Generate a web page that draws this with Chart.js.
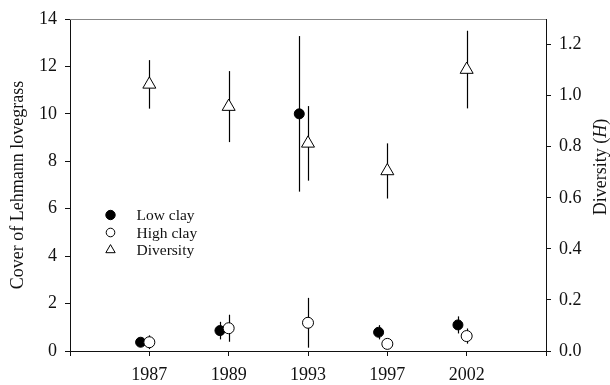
<!DOCTYPE html>
<html>
<head>
<meta charset="utf-8">
<title>Cover of Lehmann lovegrass and diversity</title>
<script src="https://cdn.jsdelivr.net/npm/chart.js@4.4.1/dist/chart.umd.min.js"></script>
<style>
  html, body { margin: 0; padding: 0; background: #fff; }
  #wrap { position: relative; width: 610px; height: 385px; }
</style>
</head>
<body>
<div id="wrap"><canvas id="chart" width="610" height="385"></canvas></div>
<script>
// Survey years (x categories)
const years = ['1987', '1989', '1993', '1997', '2002'];

// Cover of Lehmann lovegrass (left axis), mean and error
const lowClay = [0.37, 0.86, 10.0, 0.79, 1.10];
const lowClayErr = [0.15, 0.37, 3.28, 0.30, 0.36];
const highClay = [0.37, 0.96, 1.19, 0.30, 0.63];
const highClayErr = [0.29, 0.57, 1.05, 0.15, 0.32];

// Diversity H (right axis), mean and error
const diversity = [1.044, 0.957, 0.813, 0.705, 1.102];
const diversityErr = [0.095, 0.139, 0.146, 0.108, 0.152];

// Tick labels
const coverTicks = [0, 2, 4, 6, 8, 10, 12, 14];
const diversityTicks = [0, 0.2, 0.4, 0.6, 0.8, 1.0, 1.2];

const serif = '"Liberation Serif", "Times New Roman", serif';
const ink = '#111';
Chart.defaults.font.family = serif;
Chart.defaults.color = ink;

// low clay symbols sit a little left of the year
function toPoints(values, shift) {
    return values.map((v, i) => ({ x: i + 1 + shift, y: v }));
}

const errors = [lowClayErr, highClayErr, diversityErr];

// vertical error bars, drawn under the symbols
const errorBars = {
    id: 'errorBars',
    beforeDatasetsDraw(chart) {
        const ctx = chart.ctx;
        ctx.save();
        ctx.strokeStyle = '#000';
        ctx.lineWidth = 1.2;
        chart.data.datasets.forEach((ds, i) => {
            const meta = chart.getDatasetMeta(i);
            const scale = chart.scales[ds.yAxisID];
            meta.data.forEach((pt, j) => {
                const v = ds.data[j].y;
                const e = errors[i][j];
                const x = Math.round(pt.x) + 0.5;
                ctx.beginPath();
                ctx.moveTo(x, scale.getPixelForValue(v + e));
                ctx.lineTo(x, scale.getPixelForValue(v - e));
                ctx.stroke();
            });
        });
        ctx.restore();
    }
};

// top frame line, legend box and the right-hand title
const decorations = {
    id: 'decorations',
    afterDraw(chart) {
        const ctx = chart.ctx;
        const area = chart.chartArea;

        ctx.save();
        ctx.strokeStyle = '#888';
        ctx.lineWidth = 1;
        ctx.beginPath();
        ctx.moveTo(area.left, Math.round(area.top) + 0.5);
        ctx.lineTo(area.right, Math.round(area.top) + 0.5);
        ctx.stroke();
        ctx.restore();

        // legend
        const rows = [215, 232.5, 250];
        const symbolSize = [4.7, 4.3, 5.4];
        ctx.save();
        chart.data.datasets.forEach((ds, i) => {
            ctx.fillStyle = ds.backgroundColor;
            ctx.strokeStyle = ds.borderColor;
            ctx.lineWidth = 1;
            Chart.helpers.drawPoint(ctx, {
                pointStyle: ds.pointStyle,
                radius: symbolSize[i],
                rotation: 0,
                borderWidth: 1
            }, 110.5, rows[i]);
            ctx.fillStyle = ink;
            ctx.font = '15.5px ' + serif;
            ctx.textBaseline = 'middle';
            ctx.textAlign = 'left';
            ctx.fillText(ds.label, 136.5, rows[i] + 1);
        });
        ctx.restore();

        // right axis title with italic H
        const parts = [['Diversity (', ''], ['H', 'italic '], [')', '']];
        ctx.save();
        ctx.translate(601.5, 167);
        ctx.rotate(-Math.PI / 2);
        ctx.fillStyle = ink;
        ctx.textBaseline = 'middle';
        ctx.textAlign = 'left';
        let total = 0;
        const widths = parts.map(p => {
            ctx.font = p[1] + '18px ' + serif;
            const w = ctx.measureText(p[0]).width;
            total += w;
            return w;
        });
        let x = -total / 2;
        parts.forEach((p, i) => {
            ctx.font = p[1] + '18px ' + serif;
            ctx.fillText(p[0], x, 0);
            x += widths[i];
        });
        ctx.restore();
    }
};

const ctx = document.getElementById('chart').getContext('2d');
new Chart(ctx, {
    type: 'scatter',
    data: {
        datasets: [
            {
                label: 'Low clay',
                data: toPoints(lowClay, -0.11),
                yAxisID: 'y',
                pointStyle: 'circle',
                pointRadius: 5,
                backgroundColor: '#000',
                borderColor: '#000',
                borderWidth: 1,
                order: 3
            },
            {
                label: 'High clay',
                data: toPoints(highClay, 0),
                yAxisID: 'y',
                pointStyle: 'circle',
                pointRadius: 5.5,
                backgroundColor: '#fff',
                borderColor: '#000',
                borderWidth: 1,
                order: 2
            },
            {
                label: 'Diversity',
                data: toPoints(diversity, 0),
                yAxisID: 'y2',
                pointStyle: 'triangle',
                pointRadius: 7.5,
                backgroundColor: '#fff',
                borderColor: '#000',
                borderWidth: 1,
                order: 1
            }
        ]
    },
    options: {
        responsive: false,
        animation: false,
        events: [],
        layout: { padding: { top: 19, left: 0, right: 0, bottom: 0 } },
        plugins: {
            legend: { display: false },
            tooltip: { enabled: false }
        },
        scales: {
            x: {
                type: 'linear',
                position: 'bottom',
                min: 0,
                max: 6,
                afterFit: s => { s.height = 34; },
                grid: { drawOnChartArea: false, drawTicks: true, tickLength: 5, color: ink },
                border: { color: ink, width: 1 },
                ticks: {
                    stepSize: 1,
                    autoSkip: false,
                    maxRotation: 0,
                    padding: 8,
                    color: ink,
                    font: { size: 18 },
                    callback: v => years[v - 1] || ''
                }
            },
            y: {
                type: 'linear',
                position: 'left',
                min: 0,
                max: 14,
                afterFit: s => { s.width = 70; },
                afterBuildTicks: s => { s.ticks = coverTicks.map(v => ({ value: v })); },
                grid: { drawOnChartArea: false, drawTicks: true, tickLength: 5, color: ink },
                border: { color: ink, width: 1 },
                ticks: { padding: 8, color: ink, font: { size: 18 } },
                title: {
                    display: true,
                    text: 'Cover of Lehmann lovegrass',
                    color: ink,
                    font: { size: 18 },
                    padding: { top: 7, bottom: 0 }
                }
            },
            y2: {
                type: 'linear',
                position: 'right',
                min: 0,
                max: 1.3,
                afterFit: s => { s.width = 64; },
                afterBuildTicks: s => { s.ticks = diversityTicks.map(v => ({ value: v })); },
                grid: { drawOnChartArea: false, drawTicks: true, tickLength: 5, color: ink },
                border: { color: ink, width: 1 },
                ticks: {
                    padding: 8,
                    color: ink,
                    font: { size: 18 },
                    callback: v => v.toFixed(1)
                }
            }
        }
    },
    plugins: [errorBars, decorations]
});
</script>
</body>
</html>
